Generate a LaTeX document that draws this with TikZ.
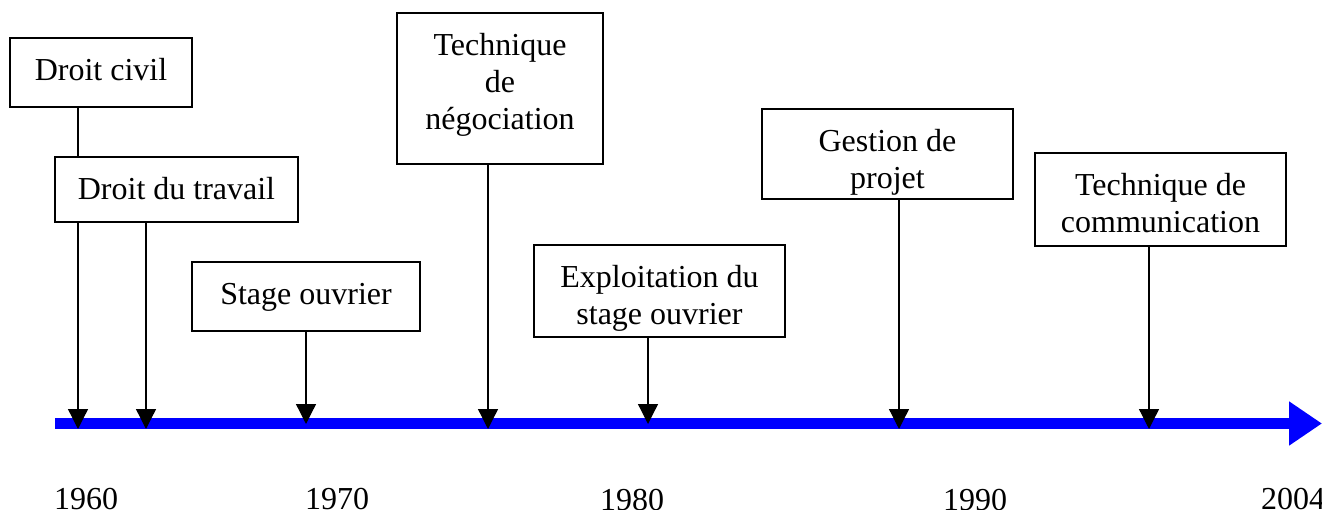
\documentclass[tikz,border=0pt]{standalone}
\usepackage{fontspec}
\setmainfont{Liberation Serif}
\usetikzlibrary{arrows.meta}
\pgfdeclarelayer{bg}
\pgfsetlayers{bg,main}
\newcommand\evnode[6]{\node[evbox] (#1) at (#2,#3) {\parbox[c][#5pt][t]{#4pt}{\centering\rule{0pt}{42.5pt}#6}};}
\begin{document}
\begin{tikzpicture}[x=1pt,y=-1pt,
  evbox/.style={draw=black, fill=white, line width=1.3pt, inner sep=0pt, outer sep=0pt},
  conn/.style={draw=black, line width=1.3pt, -{Triangle[length=20pt,width=20pt]}},
  axisline/.style={draw={rgb,255:red,0;green,0;blue,255}, line width=11pt, -{Triangle[length=33pt,width=42pt]}},
  year/.style={anchor=base west, inner sep=0pt},
  font=\fontsize{32}{36.8}\selectfont]
\useasboundingbox (0,0) rectangle (1322,510);
% boxes
\evnode{dc}{101}{72.5}{182}{69}{Droit civil}
\evnode{ddt}{176.5}{189.5}{243}{65}{Droit du travail}
\evnode{so}{306}{296.5}{228}{69}{Stage ouvrier}
\evnode{tn}{500}{88.5}{206}{151}{Technique\\de\\négociation}
\evnode{eso}{659.5}{291}{251}{92}{Exploitation du\\stage ouvrier}
\evnode{gp}{887.5}{154}{251}{90}{Gestion de\\projet}
\evnode{tc}{1160.5}{199.5}{251}{93}{Technique de\\communication}
% axis points
\coordinate (start) at (55,423.5);
\coordinate (end) at (1322,423.5);
\coordinate (a1) at (78,429);
\coordinate (a2) at (146,429);
\coordinate (a3) at (306,424);
\coordinate (a4) at (488,429);
\coordinate (a5) at (648,424);
\coordinate (a6) at (899,429);
\coordinate (a7) at (1149,429);
\begin{pgfonlayer}{bg}
\draw[axisline] (start) -- (end);
\draw[conn] (a1 |- dc.south) -- (a1);
\draw[conn] (a2 |- ddt.south) -- (a2);
\draw[conn] (a3 |- so.south) -- (a3);
\draw[conn] (a4 |- tn.south) -- (a4);
\draw[conn] (a5 |- eso.south) -- (a5);
\draw[conn] (a6 |- gp.south) -- (a6);
\draw[conn] (a7 |- tc.south) -- (a7);
\end{pgfonlayer}
% years
\node[year] (y1960) at (54,509) {1960};
\node[year] (y1970) at (305,509) {1970};
\node[year] (y1980) at (600,510.5) {1980};
\node[year] (y1990) at (943,510.5) {1990};
\node[year] (y2004) at (1261,509) {2004};
\end{tikzpicture}
\end{document}
